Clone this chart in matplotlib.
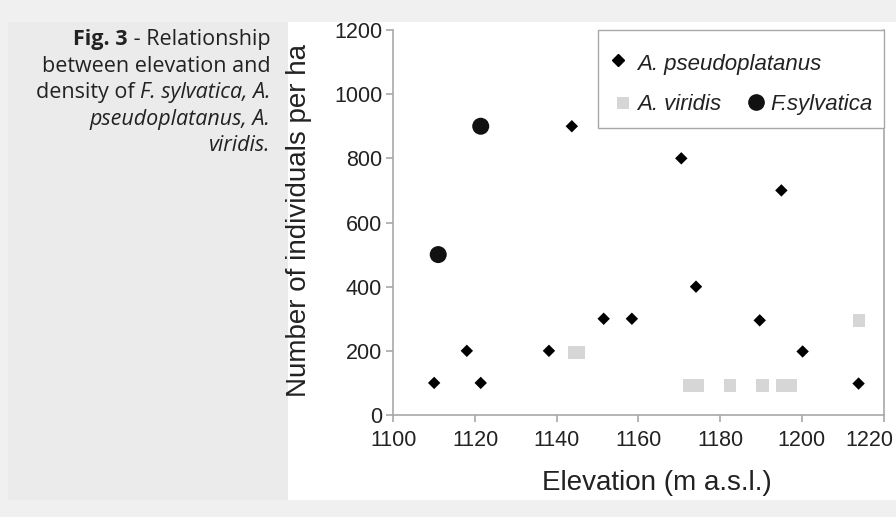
import matplotlib.pyplot as plt
from matplotlib.patches import Rectangle
from matplotlib.transforms import ScaledTranslation

plt.rcParams['font.family'] = ['Liberation Sans', 'DejaVu Sans']

# A. pseudoplatanus (diamonds)
pseudo_x = [1110, 1118, 1121.4, 1138.1, 1143.7, 1151.5, 1158.4, 1170.5, 1174.1, 1189.7, 1195, 1200.2, 1213.9]
pseudo_y = [100, 200, 100, 200, 900, 300, 300, 800, 400, 295, 700, 198, 98]

# A. viridis (grey squares)
viridis_x = [1144.2, 1145.4, 1172.5, 1174.5, 1182.4, 1190.4, 1195.3, 1197.3, 1214]
viridis_y = [195, 195, 92, 92, 92, 92, 92, 92, 295]

# F. sylvatica (circles)
sylv_x = [1111, 1121.4]
sylv_y = [500, 900]

x_ticks = [1100, 1120, 1140, 1160, 1180, 1200, 1220]
y_ticks = [0, 200, 400, 600, 800, 1000, 1200]

W, H = 896, 517
fig = plt.figure(figsize=(W / 100, H / 100), dpi=100)
fig.patch.set_facecolor('#f0f0f0')

# caption panel and white chart panel
fig.patches.append(Rectangle((8 / W, 17 / H), 280 / W, 478 / H, transform=fig.transFigure,
                             facecolor='#ebebeb', edgecolor='none', zorder=0))
fig.patches.append(Rectangle((288 / W, 17 / H), 608 / W, 478 / H, transform=fig.transFigure,
                             facecolor='white', edgecolor='none', zorder=0))

ax = fig.add_axes([393.3 / W, 1 - 415 / H, 490.2 / W, 385 / H])
ax.set_zorder(2)
ax.set_facecolor('none')

ax.scatter(viridis_x, viridis_y, marker='s', s=80, color='#d6d6d6', edgecolors='none', zorder=2)
ax.scatter(pseudo_x, pseudo_y, marker='D', s=40, color='black', edgecolors='none', zorder=3)
ax.scatter(sylv_x, sylv_y, marker='o', s=150, color='#111111', edgecolors='none', zorder=3)

ax.set_xlim(1100, 1220)
ax.set_ylim(0, 1200)
ax.set_xticks(x_ticks)
ax.set_yticks(y_ticks)

for side in ['left', 'bottom', 'right']:
    ax.spines[side].set_color('#a8a8a8')
    ax.spines[side].set_linewidth(1.2)
ax.spines['top'].set_visible(False)
ax.tick_params(axis='both', colors='#a8a8a8', labelcolor='#222222', labelsize=15.5,
               length=5, width=1.2)
ax.tick_params(axis='y', pad=3)
ax.tick_params(axis='x', pad=6)

# last x label is pushed left so it stays inside the picture
last = ax.get_xticklabels()[-1]
last.set_transform(last.get_transform() + ScaledTranslation(-0.14, 0, fig.dpi_scale_trans))

ax.set_xlabel('Elevation (m a.s.l.)', fontsize=20, color='#222222')
ax.set_ylabel('Number of individuals per ha', fontsize=20, color='#222222')
ax.xaxis.set_label_coords(0.538, -0.143)
ax.yaxis.set_label_coords(-0.165, 0.506)

# legend box drawn by hand (rows: pseudoplatanus / viridis + sylvatica)
ax.add_patch(Rectangle((0.4176, 0.745), 0.5824, 0.255, transform=ax.transAxes,
                       facecolor='white', edgecolor='#a8a8a8', linewidth=1.0, zorder=4,
                       clip_on=False))
ax.plot([0.459], [0.922], marker='D', markersize=6, color='black', linestyle='none',
        transform=ax.transAxes, zorder=5, clip_on=False)
ax.text(0.4965, 0.896, 'A. pseudoplatanus', style='italic', fontsize=16, color='#222222',
        transform=ax.transAxes, va='baseline', zorder=5)
ax.plot([0.469], [0.811], marker='s', markersize=9, color='#d6d6d6', markeredgewidth=0,
        linestyle='none', transform=ax.transAxes, zorder=5, clip_on=False)
ax.text(0.4965, 0.792, 'A. viridis', style='italic', fontsize=16, color='#222222',
        transform=ax.transAxes, va='baseline', zorder=5)
ax.plot([0.740], [0.814], marker='o', markersize=11, color='#111111', linestyle='none',
        transform=ax.transAxes, zorder=5, clip_on=False)
ax.text(0.770, 0.792, 'F.sylvatica', style='italic', fontsize=16, color='#222222',
        transform=ax.transAxes, va='baseline', zorder=5)

# caption, right aligned, mixed styles
caption = [
    [('Fig. 3', 'bold'), (' - Relationship', 'normal')],
    [('between elevation and', 'normal')],
    [('density of ', 'normal'), ('F. sylvatica, A.', 'italic')],
    [('pseudoplatanus, A.', 'italic')],
    [('viridis.', 'italic')],
]
renderer = fig.canvas.get_renderer()
right_px = 270.5
base_px = 45
for line in caption:
    x = right_px
    for txt, st in reversed(line):
        t = fig.text(x / W, 1 - base_px / H, txt, fontsize=15.5, color='#222222',
                     family=['Open Sans', 'DejaVu Sans'], ha='right', va='baseline',
                     fontweight='bold' if st == 'bold' else 'normal',
                     style='italic' if st == 'italic' else 'normal')
        x -= t.get_window_extent(renderer).width
    base_px += 26.5

fig.savefig('out.png', dpi=100, facecolor=fig.get_facecolor())
